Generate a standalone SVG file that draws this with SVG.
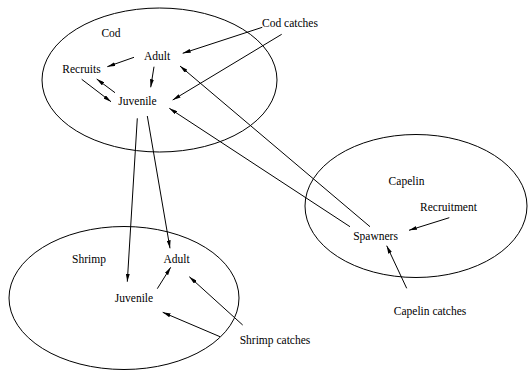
<svg xmlns="http://www.w3.org/2000/svg" width="528" height="373" viewBox="0 0 528 373">
<defs>
<style>
.t{font-family:"Liberation Serif","Times New Roman",serif;font-size:11.5px;fill:#000;text-anchor:middle}
.e{fill:none;stroke:#000;stroke-width:1}
.c line{stroke:#000;stroke-width:1;marker-end:url(#ah)}
</style>
<marker id="ah" viewBox="0 0 8 4" refX="8" refY="2" markerWidth="8" markerHeight="4" markerUnits="userSpaceOnUse" orient="auto">
<path d="M0,0 L8,2 L0,4 Z" fill="#000"/>
</marker>
</defs>
<rect width="528" height="373" fill="#fff"/>
<g id="cod-region">
<ellipse class="e" cx="159.5" cy="80" rx="117.5" ry="72"/>
<text class="t" x="111" y="37">Cod</text>
</g>
<g id="shrimp-region">
<ellipse class="e" cx="124" cy="298" rx="115" ry="71.5"/>
<text class="t" x="89" y="263">Shrimp</text>
</g>
<g id="capelin-region">
<ellipse class="e" cx="416" cy="206" rx="111" ry="71.5"/>
<text class="t" x="406.5" y="185">Capelin</text>
</g>
<g id="cod-adult"><text class="t" x="157" y="60">Adult</text></g>
<g id="cod-recruits"><text class="t" x="81.5" y="73">Recruits</text></g>
<g id="cod-juvenile"><text class="t" x="137.5" y="105">Juvenile</text></g>
<g id="cod-catches"><text class="t" x="290" y="27">Cod catches</text></g>
<g id="shrimp-adult"><text class="t" x="176.5" y="263">Adult</text></g>
<g id="shrimp-juvenile"><text class="t" x="134" y="302">Juvenile</text></g>
<g id="shrimp-catches"><text class="t" x="275" y="344">Shrimp catches</text></g>
<g id="capelin-recruitment"><text class="t" x="448.5" y="211">Recruitment</text></g>
<g id="capelin-spawners"><text class="t" x="375.5" y="240">Spawners</text></g>
<g id="capelin-catches"><text class="t" x="430" y="315">Capelin catches</text></g>
<g id="connectors" class="c">
<line x1="134" y1="57.3" x2="107.3" y2="66.7"/>
<line x1="154" y1="66.7" x2="150.7" y2="87.3"/>
<line x1="81.7" y1="79.3" x2="111" y2="101.7"/>
<line x1="115" y1="92.7" x2="96.7" y2="79"/>
<line x1="262.3" y1="27.3" x2="182.7" y2="53.3"/>
<line x1="281.7" y1="34.3" x2="172.7" y2="100"/>
<line x1="370" y1="226.7" x2="180" y2="66"/>
<line x1="350" y1="226.7" x2="169.3" y2="108.3"/>
<line x1="137.3" y1="118.3" x2="127.3" y2="281.7"/>
<line x1="147.3" y1="116" x2="170" y2="248.3"/>
<line x1="157.3" y1="288.7" x2="170.7" y2="267.3"/>
<line x1="242.7" y1="325" x2="189.3" y2="276.7"/>
<line x1="220" y1="336.7" x2="162.7" y2="312.3"/>
<line x1="449.3" y1="217.7" x2="409" y2="230.3"/>
<line x1="406.7" y1="288.3" x2="386.7" y2="245.7"/>
</g>
</svg>
